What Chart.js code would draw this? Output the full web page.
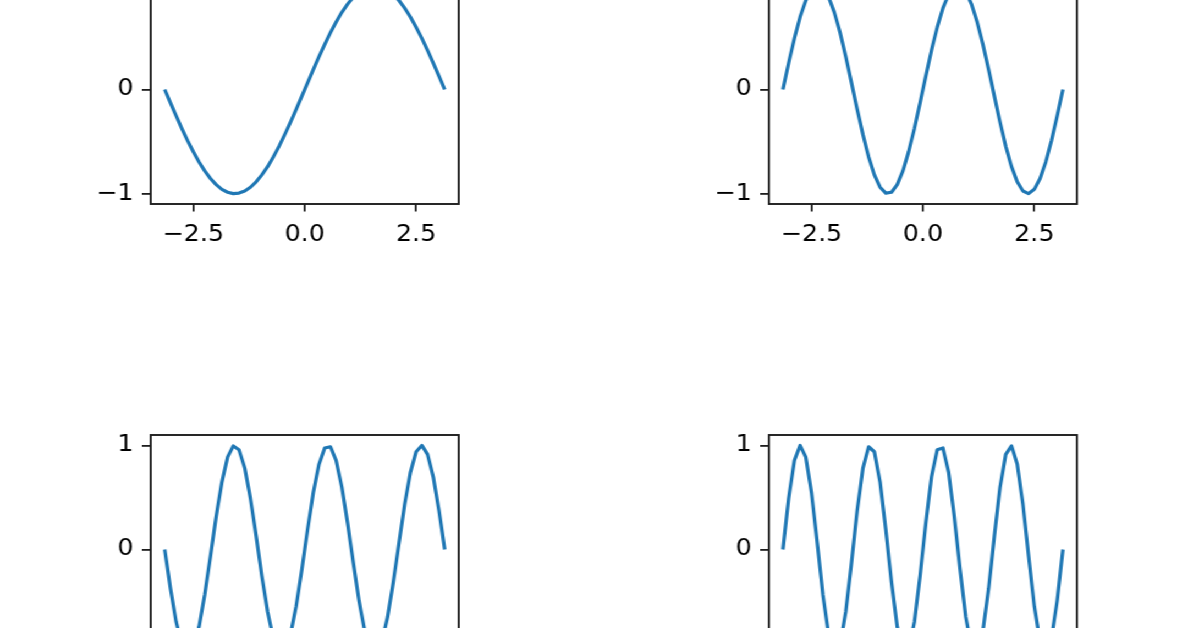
<!DOCTYPE html>
<html>
<head>
<meta charset="utf-8">
<script src="https://cdn.jsdelivr.net/npm/chart.js@4"></script>
<style>
    body { margin: 0; width: 1196px; height: 628px; overflow: hidden; background: #fff; }
    /* the reference is stretched sideways a little, so the whole figure is too */
    #fig { position: absolute; left: 0; top: 0; width: 1088px; height: 628px; transform: scaleX(1.1); transform-origin: 0 0; }
    #fig canvas { position: absolute; }
    #c1 { left: 77.3px; top: -55.4px; }
    #c2 { left: 639.1px; top: -55.4px; }
    #c3 { left: 77.3px; top: 404.6px; }
    #c4 { left: 639.1px; top: 404.6px; }
</style>
</head>
<body>
<div id="fig">
    <canvas id="c1" width="360" height="309"></canvas>
    <canvas id="c2" width="360" height="309"></canvas>
    <canvas id="c3" width="360" height="309"></canvas>
    <canvas id="c4" width="360" height="309"></canvas>
</div>
<script>
// x samples (-pi .. pi, 50 points)
var xValues = [-3.142, -3.013, -2.885, -2.757, -2.629, -2.500, -2.372, -2.244, -2.116, -1.988,
    -1.859, -1.731, -1.603, -1.475, -1.346, -1.218, -1.090, -0.962, -0.833, -0.705,
    -0.577, -0.449, -0.321, -0.192, -0.064, 0.064, 0.192, 0.321, 0.449, 0.577,
    0.705, 0.833, 0.962, 1.090, 1.218, 1.346, 1.475, 1.603, 1.731, 1.859,
    1.988, 2.116, 2.244, 2.372, 2.500, 2.629, 2.757, 2.885, 3.013, 3.142];

var sin1x = [0, -0.128, -0.254, -0.375, -0.491, -0.598, -0.696, -0.782, -0.855, -0.914,
    -0.959, -0.987, -1.000, -0.995, -0.975, -0.939, -0.887, -0.820, -0.741, -0.648,
    -0.546, -0.434, -0.315, -0.191, -0.064, 0.064, 0.191, 0.315, 0.434, 0.546,
    0.648, 0.741, 0.820, 0.887, 0.939, 0.975, 0.995, 1.000, 0.987, 0.959,
    0.914, 0.855, 0.782, 0.696, 0.598, 0.491, 0.375, 0.254, 0.128, 0];

var sin2x = [0, 0.254, 0.491, 0.696, 0.855, 0.959, 1.000, 0.975, 0.887, 0.741,
    0.546, 0.315, 0.064, -0.191, -0.434, -0.648, -0.820, -0.939, -0.995, -0.987,
    -0.914, -0.782, -0.598, -0.375, -0.128, 0.128, 0.375, 0.598, 0.782, 0.914,
    0.987, 0.995, 0.939, 0.820, 0.648, 0.434, 0.191, -0.064, -0.315, -0.546,
    -0.741, -0.887, -0.975, -1.000, -0.959, -0.855, -0.696, -0.491, -0.254, 0];

var sin3x = [0, -0.375, -0.696, -0.914, -1.000, -0.939, -0.741, -0.434, -0.064, 0.315,
    0.648, 0.887, 0.995, 0.959, 0.782, 0.491, 0.128, -0.254, -0.598, -0.855,
    -0.987, -0.975, -0.820, -0.546, -0.191, 0.191, 0.546, 0.820, 0.975, 0.987,
    0.855, 0.598, 0.254, -0.128, -0.491, -0.782, -0.959, -0.995, -0.887, -0.648,
    -0.315, 0.064, 0.434, 0.741, 0.939, 1.000, 0.914, 0.696, 0.375, 0];

var sin4x = [0, 0.491, 0.855, 1.000, 0.887, 0.546, 0.064, -0.434, -0.820, -0.995,
    -0.914, -0.598, -0.128, 0.375, 0.782, 0.987, 0.939, 0.648, 0.191, -0.315,
    -0.741, -0.975, -0.959, -0.696, -0.254, 0.254, 0.696, 0.959, 0.975, 0.741,
    0.315, -0.191, -0.648, -0.939, -0.987, -0.782, -0.375, 0.128, 0.598, 0.914,
    0.995, 0.820, 0.434, -0.064, -0.546, -0.887, -1.000, -0.855, -0.491, 0];

var xTicks = [-2.5, 0, 2.5];
var yTicks = [-1, 0, 1];

var inkColor = '#1e1e1e';
var tickFont = { family: 'DejaVu Sans', size: 23 };

function minus(s) { // matplotlib style minus sign
    return s.replace('-', '\u2212');
}

var frame = { // box around the axes (all four spines)
    id: 'frame',
    afterDraw: function (chart) {
        var a = chart.chartArea;
        var ctx = chart.ctx;
        ctx.save();
        ctx.strokeStyle = inkColor;
        ctx.lineWidth = 1.9;
        ctx.strokeRect(a.left, a.top, a.right - a.left, a.bottom - a.top);
        ctx.restore();
    }
};

function makeChart(id, yValues) {
    var points = xValues.map(function (x, i) { return { x: x, y: yValues[i] }; });
    return new Chart(document.getElementById(id), {
        type: 'line',
        data: {
            datasets: [{
                data: points,
                borderColor: '#1f77b4',
                borderWidth: 3.2,
                borderJoinStyle: 'round',
                borderCapStyle: 'butt',
                pointRadius: 0,
                tension: 0,
                fill: false
            }]
        },
        options: {
            responsive: false,
            animation: false,
            layout: { padding: { top: 30, right: 20, left: 0, bottom: 0 } },
            plugins: { legend: { display: false }, tooltip: { enabled: false } },
            scales: {
                x: {
                    type: 'linear',
                    min: -3.456,
                    max: 3.456,
                    border: { display: false },
                    grid: { drawOnChartArea: false, drawTicks: true, tickLength: 7.5, color: inkColor, lineWidth: 1.8 },
                    ticks: {
                        font: tickFont,
                        color: '#000',
                        padding: 10,
                        maxRotation: 0,
                        callback: function (v) { return minus(v.toFixed(1)); }
                    },
                    afterBuildTicks: function (s) { s.ticks = xTicks.map(function (v) { return { value: v }; }); },
                    afterFit: function (s) { s.height = 50; }
                },
                y: {
                    min: -1.1,
                    max: 1.1,
                    border: { display: false },
                    grid: { drawOnChartArea: false, drawTicks: true, tickLength: 8, color: inkColor, lineWidth: 1.8 },
                    ticks: {
                        font: tickFont,
                        color: '#000',
                        padding: 7.5,
                        callback: function (v) { return minus(String(v)); }
                    },
                    afterBuildTicks: function (s) { s.ticks = yTicks.map(function (v) { return { value: v }; }); },
                    afterFit: function (s) { s.width = 60; }
                }
            }
        },
        plugins: [frame]
    });
}

makeChart('c1', sin1x);
makeChart('c2', sin2x);
makeChart('c3', sin3x);
makeChart('c4', sin4x);
</script>
</body>
</html>
